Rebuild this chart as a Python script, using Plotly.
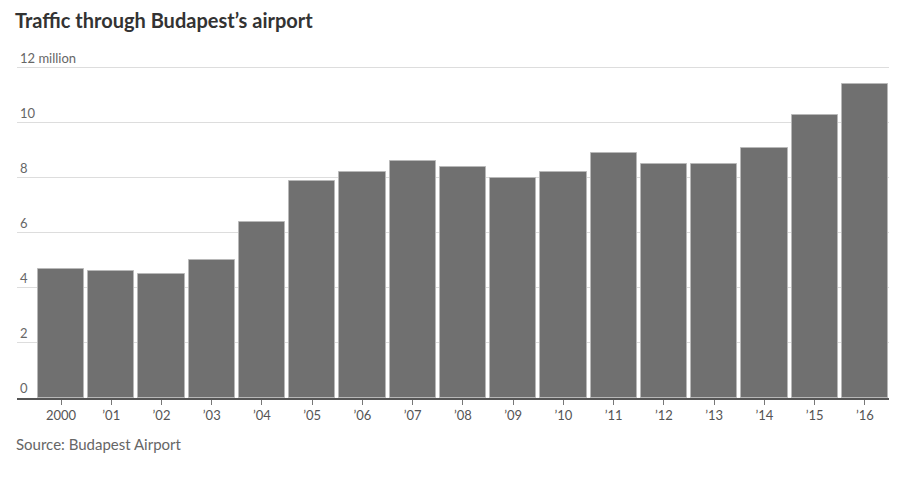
import plotly.graph_objects as go

years = ["2000", "’01", "’02", "’03", "’04", "’05", "’06", "’07", "’08",
         "’09", "’10", "’11", "’12", "’13", "’14", "’15", "’16"]
passengers = [4.7, 4.6, 4.5, 5.0, 6.4, 7.9, 8.2, 8.6, 8.4,
              8.0, 8.2, 8.9, 8.5, 8.5, 9.1, 10.3, 11.4]
y_tickvals = [0, 2, 4, 6, 8, 10, 12]
y_ticktext = ["0", "2", "4", "6", "8", "10", "12 million"]

FONT = "Lato, Open Sans, sans-serif"

fig = go.Figure()
fig.add_trace(go.Bar(
    x=list(range(len(years))),
    y=passengers,
    width=0.92,
    marker=dict(color="#707070", line=dict(color="#b8b8b8", width=1)),
    hoverinfo="y",
))

fig.update_layout(
    width=921, height=477,
    margin=dict(l=17, r=32, t=54, b=79),
    paper_bgcolor="white", plot_bgcolor="white",
    showlegend=False,
    font=dict(family=FONT, color="#666666", size=13),
    title=dict(text="<b>Traffic through Budapest’s airport</b>",
               x=0, xref="paper", xanchor="left", y=1, yref="container",
               yanchor="top", pad=dict(t=14, l=-2),
               font=dict(family=FONT, size=20, color="#333333")),
    bargap=0,
    xaxis=dict(
        tickmode="array", tickvals=list(range(len(years))), ticktext=years,
        range=[-0.876, 16.48],
        showgrid=False, zeroline=False,
        showline=True, linecolor="#555555", linewidth=1.5,
        ticks="outside", ticklen=5, tickcolor="#777777", tickwidth=1,
        tickfont=dict(size=13, color="#555555"),
        fixedrange=True,
    ),
    yaxis=dict(
        tickmode="array", tickvals=y_tickvals, ticktext=y_ticktext,
        range=[0, 12.5],
        showgrid=True, gridcolor="#dddddd", gridwidth=1,
        zeroline=False, showline=False,
        ticklabelposition="inside top", ticks="",
        ticklabeloverflow="allow",
        tickfont=dict(size=13, color="#666666"),
        fixedrange=True,
    ),
    annotations=[dict(
        text="Source: Budapest Airport", x=0, xref="paper", xanchor="left",
        xshift=-3, y=0, yref="paper", yanchor="top", yshift=-35,
        showarrow=False, font=dict(family=FONT, size=15, color="#666666"),
    )],
)

fig.write_html("out.html",
               config={"displayModeBar": False},
               post_script="document.body.style.margin='0';")
